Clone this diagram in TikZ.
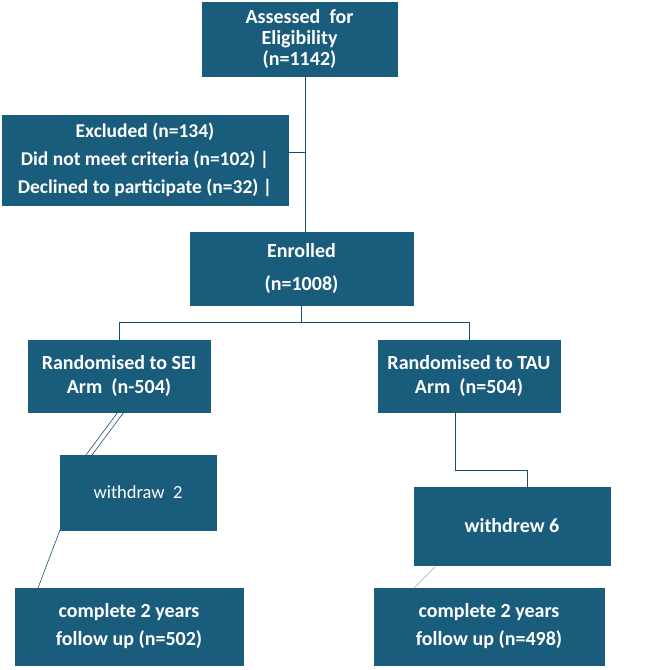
\documentclass[tikz,border=0pt]{standalone}
\usepackage{fontspec}
\setmainfont{Carlito}
\begin{document}
\begin{tikzpicture}[x=1pt,y=-1pt,
  box/.style={fill=boxc,draw=boxc,text=white,font=\bfseries\fontsize{20}{24}\selectfont,align=center,inner sep=0pt},
  ln/.style={draw=boxc!85!black,line width=0.9pt}]
\definecolor{boxc}{HTML}{1A5C7C}
\useasboundingbox (0,0) rectangle (655,670);
\node[box,minimum width=195,minimum height=74,font=\bfseries\fontsize{20}{21}\selectfont] (top) at (299.5,39) {Assessed \ for\\Eligibility\\(n=1142)};
\node[box,minimum width=286,minimum height=90,font=\bfseries\fontsize{19.5}{28}\selectfont] (exc) at (145,160) {Excluded (n=134)\\Did not meet criteria (n=102) |\\Declined to participate (n=32) |};
\node[box,minimum width=223,minimum height=73,font=\bfseries\fontsize{20}{33}\selectfont] (enr) at (301.5,268.5) {Enrolled\\(n=1008)};
\node[box,minimum width=182,minimum height=72] (sei) at (119,376) {Randomised to SEI\\Arm \ (n-504)};
\node[box,minimum width=182,minimum height=72] (tau) at (469,376) {Randomised to TAU\\Arm \ (n=504)};
\node[box,minimum width=156,minimum height=75,font=\fontsize{18.5}{20}\selectfont] (w2) at (138,492.5) {withdraw \ 2};
\node[box,minimum width=196,minimum height=78] (w6) at (512,526) {withdrew 6};
\node[box,minimum width=228,minimum height=77,font=\bfseries\fontsize{20}{28}\selectfont] (c1) at (129,626.5) {complete 2 years\\follow up (n=502)};
\node[box,minimum width=230,minimum height=77,font=\bfseries\fontsize{20}{28}\selectfont] (c2) at (489,626.5) {complete 2 years\\follow up (n=498)};
\coordinate (j1) at (305,152);
\coordinate (j2) at (301.5,322);
\draw[ln] (305,76) -- (305,232);
\draw[ln] (exc.east |- j1) -- (j1);
\draw[ln] (enr.south) -- (j2);
\draw[ln] (sei.north |- j2) -- (tau.north |- j2);
\draw[ln] (sei.north |- j2) -- (sei.north);
\draw[ln] (tau.north |- j2) -- (tau.north);
\draw[ln,line width=0.6pt] (118,412) -- (86,455);
\draw[ln,line width=0.6pt] (124,412) -- (92,455);
\draw[ln,line width=0.6pt] (60,530) -- (38,588);
\draw[ln] (455,412) -- (455,470) -- (527,470) -- (w6.north -| 527,0);
\draw[ln,draw=boxc!50,line width=0.6pt] (435,567) -- (414,588);
\end{tikzpicture}
\end{document}
